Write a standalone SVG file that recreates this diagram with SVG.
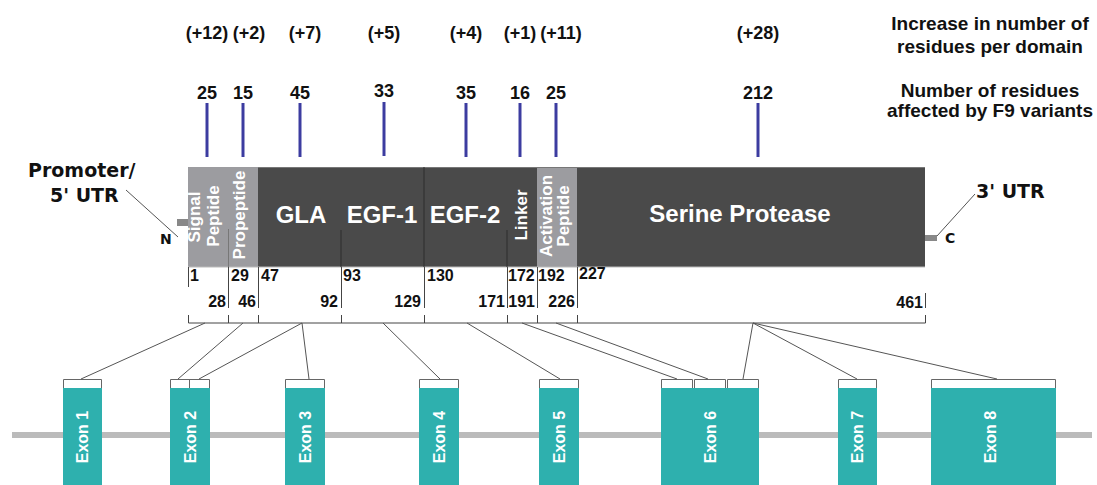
<svg xmlns="http://www.w3.org/2000/svg" width="1097" height="485" viewBox="0 0 1097 485">
<style>
.b{font-family:"Liberation Sans",Arial,sans-serif;font-weight:bold;fill:#111}
.dv{font-family:"DejaVu Sans",Verdana,sans-serif;font-weight:bold;fill:#111}
.top{font-size:18px;text-anchor:middle}
.leg{font-size:19px;text-anchor:middle}
.pos{font-size:16px}
.end{text-anchor:end}
.dom{font-family:"Liberation Sans",Arial,sans-serif;font-weight:bold;fill:#fff;font-size:24px;text-anchor:middle}
.rot{font-family:"Liberation Sans",Arial,sans-serif;font-weight:bold;fill:#fff;font-size:17px;text-anchor:middle}
.ex{font-family:"Liberation Sans",Arial,sans-serif;font-weight:bold;fill:#fff;font-size:16px;text-anchor:middle}
.blue{stroke:#3c3ca0;stroke-width:3}
.tick{stroke:#444;stroke-width:1;fill:none}
.conn{stroke:#555;stroke-width:1;fill:none}
.exon{fill:#2eb0ae}
.brk{stroke:#666;stroke-width:1;fill:#fff}
.light{fill:#9c9ca0}
.dark{fill:#4a4a4a}
</style>

<!-- top labels -->
<g id="increase-labels">
<text class="b top" x="207" y="39">(+12)</text>
<text class="b top" x="249" y="39">(+2)</text>
<text class="b top" x="305" y="39">(+7)</text>
<text class="b top" x="384" y="39">(+5)</text>
<text class="b top" x="466" y="39">(+4)</text>
<text class="b top" x="520" y="39">(+1)</text>
<text class="b top" x="561" y="39">(+11)</text>
<text class="b top" x="758" y="39">(+28)</text>
</g>
<g id="variant-counts">
<text class="b top" x="207" y="99">25</text>
<text class="b top" x="243" y="99">15</text>
<text class="b top" x="300" y="99">45</text>
<text class="b top" x="384" y="97">33</text>
<text class="b top" x="466" y="99">35</text>
<text class="b top" x="520" y="99">16</text>
<text class="b top" x="556" y="99">25</text>
<text class="b top" x="758" y="99">212</text>
<line class="blue" x1="207" y1="103" x2="207" y2="157"/>
<line class="blue" x1="243" y1="103" x2="243" y2="157"/>
<line class="blue" x1="300" y1="103" x2="300" y2="157"/>
<line class="blue" x1="384" y1="102" x2="384" y2="156"/>
<line class="blue" x1="466" y1="103" x2="466" y2="157"/>
<line class="blue" x1="520" y1="103" x2="520" y2="157"/>
<line class="blue" x1="556" y1="103" x2="556" y2="157"/>
<line class="blue" x1="758" y1="103" x2="758" y2="157"/>
</g>
<g id="legend">
<text class="b leg" x="990" y="30">Increase in number of</text>
<text class="b leg" x="990" y="53">residues per domain</text>
<text class="b leg" x="990" y="97">Number of residues</text>
<text class="b leg" x="990" y="117">affected by F9 variants</text>
</g>

<!-- UTR labels -->
<g id="utr5">
<text class="dv" x="28" y="177" font-size="19">Promoter/</text>
<text class="dv" x="50" y="202" font-size="19">5' UTR</text>
<text class="dv" x="160" y="244" font-size="14">N</text>
<rect x="177" y="219" width="11" height="7" fill="#888"/>
</g>
<g id="utr3">
<text class="dv" x="976" y="198" font-size="19">3' UTR</text>
<text class="dv" x="945" y="243" font-size="14">C</text>
<rect x="925" y="235" width="12" height="6" fill="#888"/>
</g>

<!-- protein domains -->
<g id="domain-signal">
<rect class="light" x="188" y="167" width="40" height="100"/>
<text class="rot" transform="translate(200,217) rotate(-90)">Signal</text>
<text class="rot" transform="translate(219,216) rotate(-90)">Peptide</text>
</g>
<g id="domain-propeptide">
<rect class="light" x="228" y="167" width="30" height="100" fill="#a0a0a4"/>
<text class="rot" transform="translate(245,215) rotate(-90)">Propeptide</text>
</g>
<g id="domain-gla">
<rect class="dark" x="258" y="167" width="83" height="100"/>
<text class="dom" x="301" y="223">GLA</text>
</g>
<g id="domain-egf1">
<rect class="dark" x="341" y="167" width="83" height="100"/>
<text class="dom" x="382" y="223">EGF-1</text>
</g>
<g id="domain-egf2">
<rect class="dark" x="424" y="167" width="83" height="100"/>
<text class="dom" x="465" y="223">EGF-2</text>
</g>
<g id="domain-linker">
<rect class="dark" x="507" y="167" width="30" height="100"/>
<text class="rot" transform="translate(527,215) rotate(-90)" font-weight="normal">Linker</text>
</g>
<g id="domain-activation">
<rect class="light" x="537" y="167" width="40" height="100"/>
<text class="rot" transform="translate(552,216) rotate(-90)">Activation</text>
<text class="rot" transform="translate(569,216) rotate(-90)">Peptide</text>
</g>
<g id="domain-serine">
<rect class="dark" x="577" y="167" width="348" height="100"/>
<text class="dom" x="740" y="222" font-size="25">Serine Protease</text>
</g>
<line x1="258" y1="167.5" x2="925" y2="167.5" stroke="#777" stroke-width="1"/>
<line x1="188" y1="267" x2="925" y2="267" stroke="#bbb" stroke-width="1"/>
<g id="domain-separators" stroke="#2c2c2c" stroke-width="1">
<line x1="341" y1="230" x2="341" y2="267"/>
<line x1="424" y1="167" x2="424" y2="267"/>
<line x1="507" y1="230" x2="507" y2="267"/>
<line x1="228.5" y1="229" x2="228.5" y2="267" stroke="#777"/>
</g>

<!-- residue positions -->
<g id="positions">
<g class="tick">
<line x1="188.5" y1="267" x2="188.5" y2="287"/>
<line x1="228.5" y1="267" x2="228.5" y2="308"/>
<line x1="258.5" y1="267" x2="258.5" y2="308"/>
<line x1="341.5" y1="267" x2="341.5" y2="308"/>
<line x1="424.5" y1="267" x2="424.5" y2="308"/>
<line x1="507.5" y1="267" x2="507.5" y2="308"/>
<line x1="537.5" y1="267" x2="537.5" y2="308"/>
<line x1="577.5" y1="267" x2="577.5" y2="308"/>
<line x1="925.5" y1="293" x2="925.5" y2="308"/>
</g>
<text class="b pos" x="190" y="281">1</text>
<text class="b pos" x="231" y="281">29</text>
<text class="b pos" x="261" y="281">47</text>
<text class="b pos" x="343" y="281">93</text>
<text class="b pos" x="427" y="281">130</text>
<text class="b pos" x="508" y="281">172</text>
<text class="b pos" x="538" y="281">192</text>
<text class="b pos" x="579" y="279">227</text>
<text class="b pos end" x="226" y="307">28</text>
<text class="b pos end" x="256" y="307">46</text>
<text class="b pos end" x="338" y="307">92</text>
<text class="b pos end" x="421" y="307">129</text>
<text class="b pos end" x="505" y="307">171</text>
<text class="b pos end" x="535" y="307">191</text>
<text class="b pos end" x="575" y="307">226</text>
<text class="b pos end" x="923" y="308" font-size="19">461</text>
</g>

<!-- protein bracket -->
<g id="protein-bracket" class="tick">
<path d="M188.5,315 V323 H925.5 V315"/>
<path d="M228.5,315 V323 M258.5,315 V323 M341.5,315 V323 M424.5,315 V323 M507.5,315 V323 M537.5,315 V323 M577.5,315 V323"/>
</g>

<!-- gene line -->
<rect x="12" y="432" width="1080" height="6" fill="#bbb"/>

<!-- exons -->
<g id="exon1">
<rect class="exon" x="63" y="388" width="39" height="100"/>
<path class="brk" d="M63.5,388 V379.5 H101.5 V388"/>
<text class="ex" transform="translate(88,437) rotate(-90)">Exon 1</text>
</g>
<g id="exon2">
<rect class="exon" x="170" y="388" width="40" height="100"/>
<path class="brk" d="M170.5,388 V379.5 H209.5 V388 M189.5,379.5 V388"/>
<text class="ex" transform="translate(196,437) rotate(-90)">Exon 2</text>
</g>
<g id="exon3">
<rect class="exon" x="285" y="388" width="40" height="100"/>
<path class="brk" d="M285.5,388 V379.5 H324.5 V388"/>
<text class="ex" transform="translate(311,437) rotate(-90)">Exon 3</text>
</g>
<g id="exon4">
<rect class="exon" x="419" y="388" width="40" height="100"/>
<path class="brk" d="M419.5,388 V379.5 H458.5 V388"/>
<text class="ex" transform="translate(445,437) rotate(-90)">Exon 4</text>
</g>
<g id="exon5">
<rect class="exon" x="539" y="388" width="40" height="100"/>
<path class="brk" d="M539.5,388 V379.5 H578.5 V388"/>
<text class="ex" transform="translate(565,437) rotate(-90)">Exon 5</text>
</g>
<g id="exon6">
<rect class="exon" x="661" y="388" width="98" height="100"/>
<path class="brk" d="M661.5,388 V379.5 H692.5 V388"/>
<path class="brk" d="M694.5,388 V379.5 H725.5 V388"/>
<path class="brk" d="M727.5,388 V379.5 H758.5 V388"/>
<text class="ex" transform="translate(716,437) rotate(-90)">Exon 6</text>
</g>
<g id="exon7">
<rect class="exon" x="838" y="388" width="39" height="100"/>
<path class="brk" d="M838.5,388 V379.5 H876.5 V388"/>
<text class="ex" transform="translate(863,437) rotate(-90)">Exon 7</text>
</g>
<g id="exon8">
<rect class="exon" x="931" y="388" width="125" height="100"/>
<path class="brk" d="M931.5,388 V379.5 H1055.5 V388"/>
<text class="ex" transform="translate(996,437) rotate(-90)">Exon 8</text>
</g>

<!-- connectors -->
<g id="connectors" class="conn">
<line x1="126" y1="190" x2="178" y2="237"/>
<line x1="937" y1="236" x2="975" y2="194"/>
<line x1="205" y1="323" x2="81" y2="379"/>
<line x1="243" y1="323" x2="178" y2="379"/>
<line x1="302" y1="323" x2="199" y2="379"/>
<line x1="302" y1="323" x2="309" y2="379"/>
<line x1="383" y1="323" x2="440" y2="379"/>
<line x1="467" y1="323" x2="560" y2="379"/>
<line x1="522" y1="323" x2="677" y2="379"/>
<line x1="556" y1="323" x2="708" y2="379"/>
<line x1="753" y1="323" x2="743" y2="379"/>
<line x1="753" y1="323" x2="857" y2="379"/>
<line x1="753" y1="323" x2="997" y2="379"/>
</g>
</svg>
